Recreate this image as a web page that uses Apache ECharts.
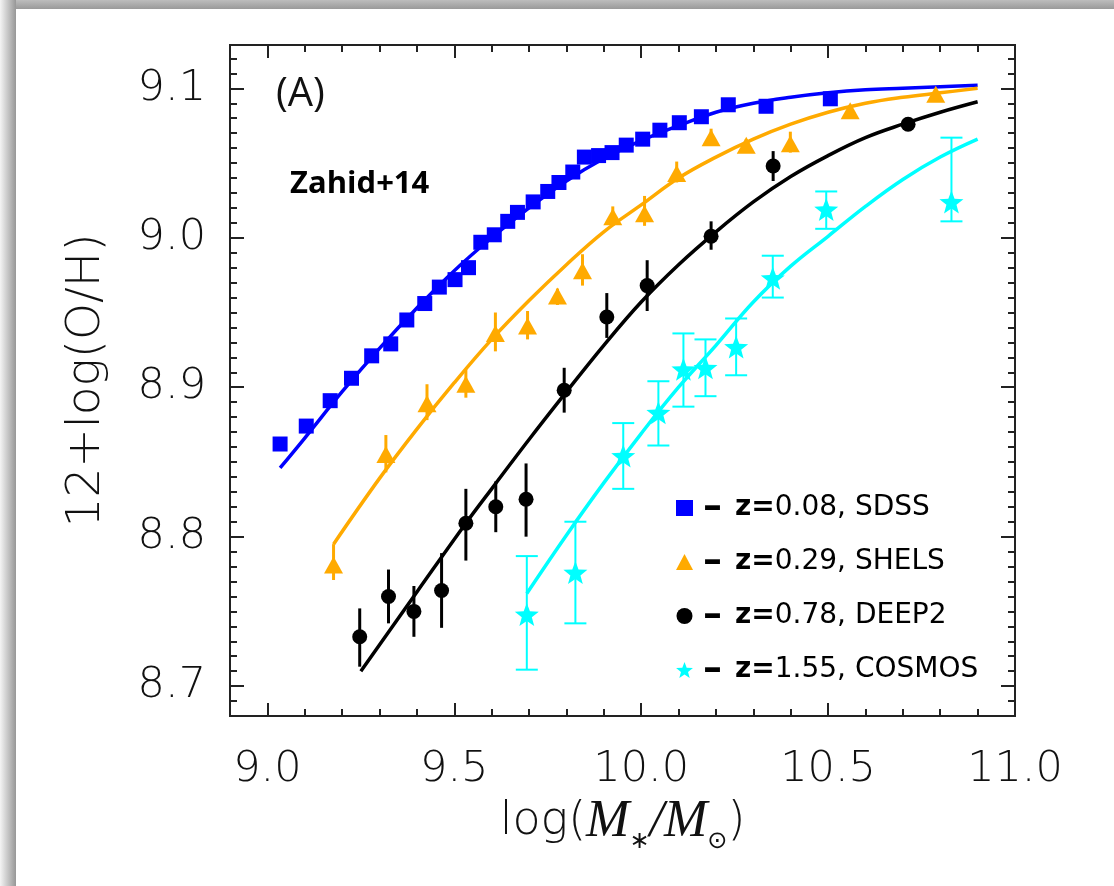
<!DOCTYPE html>
<html>
<head>
<meta charset="utf-8">
<script src="https://cdn.jsdelivr.net/npm/echarts@6/dist/echarts.min.js"></script>
<style>
  html, body { margin: 0; padding: 0; background: #ffffff; }
  #chart { width: 1114px; height: 886px; }
</style>
</head>
<body>
<div id="chart"></div>
<script>
// ---- Mass-metallicity relation, Zahid+14 samples ----

// SDSS, z = 0.08
const sdssMass = [9.034, 9.104, 9.168, 9.225, 9.279, 9.330, 9.373, 9.421, 9.460, 9.502,
                  9.538, 9.571, 9.607, 9.643, 9.669, 9.711, 9.750, 9.780, 9.817, 9.848,
                  9.886, 9.922, 9.960, 10.004, 10.050, 10.102, 10.161, 10.233, 10.334, 10.506];
const sdssOH   = [8.862, 8.874, 8.891, 8.906, 8.921, 8.929, 8.945, 8.956, 8.967, 8.972,
                  8.980, 8.997, 9.002, 9.011, 9.017, 9.024, 9.031, 9.037, 9.044, 9.054,
                  9.055, 9.057, 9.062, 9.066, 9.072, 9.077, 9.081, 9.089, 9.088, 9.093];

// SHELS, z = 0.29
const shelsMass = [9.177, 9.317, 9.427, 9.531, 9.610, 9.696, 9.776, 9.843, 9.924, 10.009,
                   10.095, 10.187, 10.281, 10.399, 10.559, 10.788];
const shelsOH   = [8.781, 8.855, 8.889, 8.902, 8.936, 8.941, 8.961, 8.978, 9.014, 9.016,
                   9.043, 9.067, 9.062, 9.063, 9.085, 9.096];
const shelsLow  = [8.771, 8.843, 8.878, 8.893, 8.924, 8.932, 8.955, 8.968, 9.008, 9.008,
                   9.037, 9.062, 9.058, 9.057, 9.081, 9.093];
const shelsHigh = [8.795, 8.868, 8.902, 8.912, 8.950, 8.951, 8.966, 8.989, 9.021, 9.028,
                   9.051, 9.073, 9.066, 9.071, 9.089, 9.099];

// DEEP2, z = 0.78
const deep2Mass = [9.247, 9.324, 9.392, 9.466, 9.531, 9.611, 9.692, 9.794, 9.908, 10.016,
                   10.187, 10.353, 10.714];
const deep2OH   = [8.733, 8.760, 8.750, 8.764, 8.809, 8.820, 8.825, 8.898, 8.947, 8.968,
                   9.001, 9.048, 9.076];
const deep2Low  = [8.713, 8.742, 8.733, 8.739, 8.784, 8.803, 8.800, 8.883, 8.933, 8.951,
                   8.992, 9.038, 9.073];
const deep2High = [8.752, 8.778, 8.767, 8.789, 8.832, 8.837, 8.849, 8.913, 8.963, 8.985,
                   9.011, 9.058, 9.080];

// COSMOS, z = 1.55
const cosmosMass = [9.694, 9.824, 9.952, 10.046, 10.113, 10.172, 10.254, 10.352, 10.495, 10.830];
const cosmosOH   = [8.748, 8.776, 8.854, 8.883, 8.912, 8.913, 8.927, 8.973, 9.019, 9.024];
const cosmosLow  = [8.711, 8.742, 8.832, 8.861, 8.887, 8.894, 8.908, 8.960, 9.006, 9.011];
const cosmosHigh = [8.787, 8.810, 8.876, 8.904, 8.936, 8.932, 8.946, 8.988, 9.031, 9.067];

// Best-fit relations
const fitSdssMass = [9.034, 9.1, 9.2, 9.3, 9.4, 9.5, 9.6, 9.7, 9.8, 9.9, 10.0,
                     10.1, 10.2, 10.3, 10.4, 10.5, 10.6, 10.7, 10.8, 10.9];
const fitSdssOH   = [8.846, 8.866, 8.897, 8.926, 8.953, 8.978, 9.000, 9.020, 9.038, 9.053, 9.065,
                     9.075, 9.084, 9.090, 9.094, 9.097, 9.099, 9.100, 9.101, 9.102];
const fitShelsMass = [9.177, 9.3, 9.4, 9.5, 9.6, 9.7, 9.8, 9.9, 10.0,
                      10.1, 10.2, 10.3, 10.4, 10.5, 10.6, 10.7, 10.8, 10.9];
const fitShelsOH   = [8.795, 8.839, 8.872, 8.903, 8.932, 8.958, 8.982, 9.004, 9.022,
                      9.040, 9.054, 9.066, 9.076, 9.084, 9.090, 9.094, 9.097, 9.100];
const fitDeep2Mass = [9.25, 9.4, 9.531, 9.6, 9.7, 9.794, 9.9, 10.0, 10.1, 10.2,
                      10.3, 10.4, 10.5, 10.6, 10.7, 10.8, 10.9];
const fitDeep2OH   = [8.710, 8.763, 8.809, 8.832, 8.865, 8.895, 8.928, 8.957, 8.982, 9.004,
                      9.024, 9.041, 9.055, 9.067, 9.076, 9.084, 9.091];
const fitCosmosMass = [9.694, 9.8, 9.9, 10.0, 10.1, 10.2, 10.3, 10.4, 10.5, 10.6, 10.7, 10.8, 10.9];
const fitCosmosOH   = [8.762, 8.801, 8.836, 8.869, 8.900, 8.928, 8.957, 8.981, 9.001, 9.021, 9.039, 9.054, 9.066];

// Sample labels
const sampleNames = ['z=0.08, SDSS', 'z=0.29, SHELS', 'z=0.78, DEEP2', 'z=1.55, COSMOS'];

// Axis ticks
const xMajorTicks = [9.0, 9.5, 10.0, 10.5, 11.0];
const xMinorTicks = [9.1, 9.2, 9.3, 9.4, 9.6, 9.7, 9.8, 9.9, 10.1, 10.2, 10.3, 10.4, 10.6, 10.7, 10.8, 10.9];
const yMajorTicks = [8.7, 8.8, 8.9, 9.0, 9.1];
const yMinorTicks = [];
for (let i = 869; i <= 912; i++) { if (i % 10 !== 0) yMinorTicks.push(i / 100); }

const X_MIN = 8.9, X_MAX = 11.0, Y_MIN = 8.68, Y_MAX = 9.129;

const COLORS = { sdss: '#0000ff', shels: '#ffaa00', deep2: '#000000', cosmos: '#00ffff' };
const STAR = 'path://M100,0 L124.7,66 L195.1,69.1 L139.9,113 L158.8,180.9 L100,142 L41.2,180.9 L60.1,113 L4.9,69.1 L75.3,66 Z';

const zip = (a, b) => a.map((v, i) => [v, b[i]]);
const zip3 = (a, b, c) => a.map((v, i) => [v, b[i], c[i]]);

const TICK_FONT = 'DejaVu Sans';
const AXIS_COLOR = '#222';

function makeAxis(kind, position, ticks, len, withLabels) {
  const ax = {
    type: 'value',
    position: position,
    min: kind === 'x' ? X_MIN : Y_MIN,
    max: kind === 'x' ? X_MAX : Y_MAX,
    axisLine: { show: true, onZero: false, lineStyle: { color: AXIS_COLOR, width: 2 } },
    axisTick: { show: true, inside: true, length: len, customValues: ticks,
                lineStyle: { color: AXIS_COLOR, width: 2 } },
    axisLabel: { show: false },
    splitLine: { show: false },
    minorTick: { show: false },
    minorSplitLine: { show: false }
  };
  if (withLabels) {
    ax.axisLabel = {
      show: true,
      customValues: ticks,
      formatter: v => v.toFixed(1),
      fontFamily: TICK_FONT,
      fontWeight: 200,
      fontSize: 43,
      color: '#111',
      margin: kind === 'x' ? 32 : 24,
      showMinLabel: true,
      showMaxLabel: true
    };
  }
  return ax;
}

function errorBars(color, width, capHalf) {
  return function (params, api) {
    const x = api.value(0);
    const lo = api.coord([x, api.value(1)]);
    const hi = api.coord([x, api.value(2)]);
    const style = { stroke: color, lineWidth: width, fill: null };
    const children = [{ type: 'line', shape: { x1: lo[0], y1: lo[1], x2: hi[0], y2: hi[1] }, style: style }];
    if (capHalf) {
      children.push({ type: 'line', shape: { x1: lo[0] - capHalf, y1: lo[1], x2: lo[0] + capHalf, y2: lo[1] }, style: style });
      children.push({ type: 'line', shape: { x1: hi[0] - capHalf, y1: hi[1], x2: hi[0] + capHalf, y2: hi[1] }, style: style });
    }
    return { type: 'group', children: children };
  };
}

function fitLine(mass, oh, color) {
  return {
    type: 'line', data: zip(mass, oh), showSymbol: false, smooth: 0.4, silent: true,
    lineStyle: { color: color, width: 3.5 }, z: 2, legendHoverLink: false
  };
}

function errSeries(mass, lo, hi, color, width, cap) {
  return {
    type: 'custom', data: zip3(mass, lo, hi), encode: { x: 0, y: [1, 2] },
    renderItem: errorBars(color, width, cap), silent: true, z: 3
  };
}

const xAxisTitle = '{p|log(}{m|M}{s|∗}{m|/M}{o|⊙}{p|)}';

const chart = echarts.init(document.getElementById('chart'), null, { renderer: 'canvas' });

const xAxes = [
  makeAxis('x', 'bottom', xMajorTicks, 13, true),
  makeAxis('x', 'bottom', xMinorTicks, 7, false),
  makeAxis('x', 'top', xMajorTicks, 13, false),
  makeAxis('x', 'top', xMinorTicks, 7, false)
];
Object.assign(xAxes[0], {
  name: xAxisTitle,
  nameLocation: 'middle',
  nameGap: 74,
  nameTextStyle: {
    rich: {
      p: { fontFamily: TICK_FONT, fontWeight: 200, fontSize: 46, color: '#111', lineHeight: 64 },
      m: { fontFamily: 'Liberation Serif', fontStyle: 'italic', fontSize: 52, color: '#111', lineHeight: 64 },
      s: { fontFamily: 'DejaVu Sans', fontSize: 24, color: '#111', verticalAlign: 'bottom', lineHeight: 44 },
      o: { fontFamily: 'DejaVu Sans', fontSize: 24, color: '#111', verticalAlign: 'bottom', lineHeight: 44 }
    }
  }
});

const yAxes = [
  makeAxis('y', 'left', yMajorTicks, 14, true),
  makeAxis('y', 'left', yMinorTicks, 7, false),
  makeAxis('y', 'right', yMajorTicks, 14, false),
  makeAxis('y', 'right', yMinorTicks, 7, false)
];
Object.assign(yAxes[0], {
  name: '12+log(O/H)',
  nameLocation: 'middle',
  nameRotate: 90,
  nameGap: 120,
  nameTextStyle: { fontFamily: TICK_FONT, fontWeight: 200, fontSize: 47, color: '#111' }
});

const option = {
  backgroundColor: '#ffffff',
  animation: false,
  grid: { left: 230, right: 99, top: 45, bottom: 170, containLabel: false, outerBoundsMode: 'none' },
  xAxis: xAxes,
  yAxis: yAxes,
  legend: {
    orient: 'vertical',
    left: 671,
    top: 484,
    itemGap: 16,
    itemWidth: 17,
    itemHeight: 16,
    selectedMode: false,
    data: [
      { name: sampleNames[0], icon: 'rect' },
      { name: sampleNames[1], icon: 'triangle' },
      { name: sampleNames[2], icon: 'circle' },
      { name: sampleNames[3], icon: STAR }
    ],
    formatter: name => '{d|–}{z|z=}{t|' + name.slice(2) + '}',
    textStyle: {
      rich: {
        d: { fontFamily: 'DejaVu Sans', fontWeight: 'bold', fontSize: 38, color: '#000', padding: [0, 13, 0, 5], lineHeight: 34 },
        z: { fontFamily: 'DejaVu Sans', fontWeight: 'bold', fontSize: 28, color: '#000', lineHeight: 34 },
        t: { fontFamily: 'DejaVu Sans', fontSize: 28, color: '#000', lineHeight: 34 }
      }
    }
  },
  graphic: [
    // grey frame along top and left edges
    { type: 'rect', left: 0, top: 0, z: -10, silent: true,
      shape: { width: 1114, height: 9 },
      style: { fill: { type: 'linear', x: 0, y: 0, x2: 0, y2: 1,
        colorStops: [{ offset: 0, color: '#bdbdbd' }, { offset: 1, color: '#9a9a9a' }] } } },
    { type: 'rect', left: 0, top: 0, z: -9, silent: true,
      shape: { width: 16, height: 886 },
      style: { fill: { type: 'linear', x: 0, y: 0, x2: 1, y2: 0,
        colorStops: [{ offset: 0, color: '#f4f4f4' }, { offset: 1, color: '#979797' }] } } },
    { type: 'text', left: 276, top: 75, silent: true,
      style: { text: '(A)', font: '40px "Open Sans"', fill: '#111' } },
    { type: 'text', left: 290, top: 169, silent: true,
      style: { text: 'Zahid+14', font: 'bold 31px "Open Sans"', fill: '#000' } }
  ],
  series: [
    fitLine(fitSdssMass, fitSdssOH, COLORS.sdss),
    fitLine(fitShelsMass, fitShelsOH, COLORS.shels),
    fitLine(fitDeep2Mass, fitDeep2OH, COLORS.deep2),
    fitLine(fitCosmosMass, fitCosmosOH, COLORS.cosmos),
    errSeries(shelsMass, shelsLow, shelsHigh, COLORS.shels, 3, 0),
    errSeries(deep2Mass, deep2Low, deep2High, COLORS.deep2, 3, 0),
    errSeries(cosmosMass, cosmosLow, cosmosHigh, COLORS.cosmos, 2, 11),
    { name: sampleNames[0], type: 'scatter', data: zip(sdssMass, sdssOH),
      symbol: 'rect', symbolSize: 15, itemStyle: { color: COLORS.sdss, opacity: 1 }, z: 4 },
    { name: sampleNames[1], type: 'scatter', data: zip(shelsMass, shelsOH),
      symbol: 'triangle', symbolSize: [19, 17], itemStyle: { color: COLORS.shels, opacity: 1 }, z: 4 },
    { name: sampleNames[2], type: 'scatter', data: zip(deep2Mass, deep2OH),
      symbol: 'circle', symbolSize: 15, itemStyle: { color: COLORS.deep2, opacity: 1 }, z: 4 },
    { name: sampleNames[3], type: 'scatter', data: zip(cosmosMass, cosmosOH),
      symbol: STAR, symbolSize: [24, 23], itemStyle: { color: COLORS.cosmos, opacity: 1 }, z: 4 }
  ]
};

chart.setOption(option);
</script>
</body>
</html>
